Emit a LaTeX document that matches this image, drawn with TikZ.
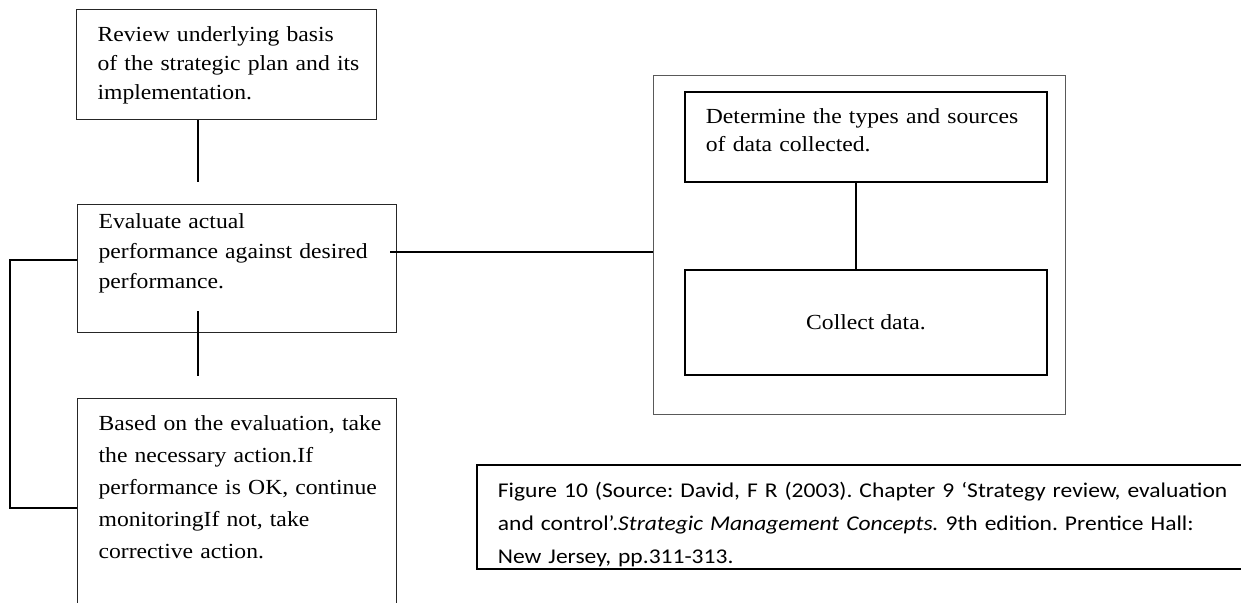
\documentclass[tikz,border=0pt]{standalone}
\usepackage{fontspec}
\setmainfont{Liberation Serif}[FakeStretch=1.1]
\newfontfamily\captionfont{Carlito}[FakeStretch=1.12]
\frenchspacing

\begin{document}
\begin{tikzpicture}[x=1pt, y=-1pt,
	stepbox/.style={draw=black!85, line width=1.2pt, anchor=north west, align=left, inner xsep=21pt, inner ysep=17pt, text height=15pt, font=\fontsize{21.5}{29}\selectfont},
	databox/.style={stepbox, draw=black, line width=1.8pt},
	link/.style={draw=black, line width=1.2pt}]
	\useasboundingbox (0,0) rectangle (1241,602);
	\clip (0,0) rectangle (1241,602);

	\node[stepbox, text width=258pt, text depth=61pt] (review) at (76,9) {Review underlying basis\\\mbox{of the strategic plan and its}\\implementation.};
	\node[stepbox, text width=277pt, text depth=95pt, inner ysep=9pt, font=\fontsize{21.5}{30}\selectfont] (evaluate) at (77,204) {Evaluate actual\\\mbox{performance against desired}\\performance.};
	\node[stepbox, text width=277pt, text depth=200pt, font=\fontsize{21.5}{32}\selectfont] (action) at (77,398) {\mbox{Based on the evaluation, take}\\the necessary action.If\\\mbox{performance is OK, continue}\\monitoringIf not, take\\corrective action.};

	\node[draw=black!65, line width=1pt, anchor=north west, minimum width=412pt, minimum height=339pt] (datastep) at (653,75) {};
	\node[databox, text width=320pt, text depth=41pt, font=\fontsize{21.5}{28}\selectfont] (datatypes) at (684,91) {\mbox{Determine the types and sources}\\of data collected.};
	\node[databox, align=center, minimum width=362pt, minimum height=105pt, inner sep=0pt] (collect) at (684,269) {Collect data.};

	\node[draw=black, line width=1.8pt, anchor=north west, align=left, inner xsep=21pt, inner ysep=15pt, text width=800pt, text height=18pt, text depth=56pt, font=\captionfont\fontsize{21}{33}\selectfont] (source) at (476,464) {Figure 10 (Source: David, F R (2003). Chapter 9 ‘Strategy review, evaluation\\and control’.\textit{Strategic Management Concepts.} 9th edition. Prentice Hall:\\New Jersey, pp.311-313.};

	\coordinate (reviewend) at (198,182);
	\coordinate (evaltop) at (198,311);
	\coordinate (evalend) at (198,376);
	\coordinate (loopup) at (10,260);
	\coordinate (loopdown) at (10,508);
	\coordinate (evalout) at (390,252);
	\coordinate (datamid) at (856,0);

	\draw[link] (review.south -| reviewend) -- (reviewend);
	\draw[link] (evaltop) -- (evalend);
	\draw[link] (evaluate.west |- loopup) -- (loopup) -- (loopdown) -- (action.west |- loopdown);
	\draw[link] (evalout) -- (evalout -| datastep.west);
	\draw[link] (datatypes.south -| datamid) -- (collect.north -| datamid);
\end{tikzpicture}
\end{document}
